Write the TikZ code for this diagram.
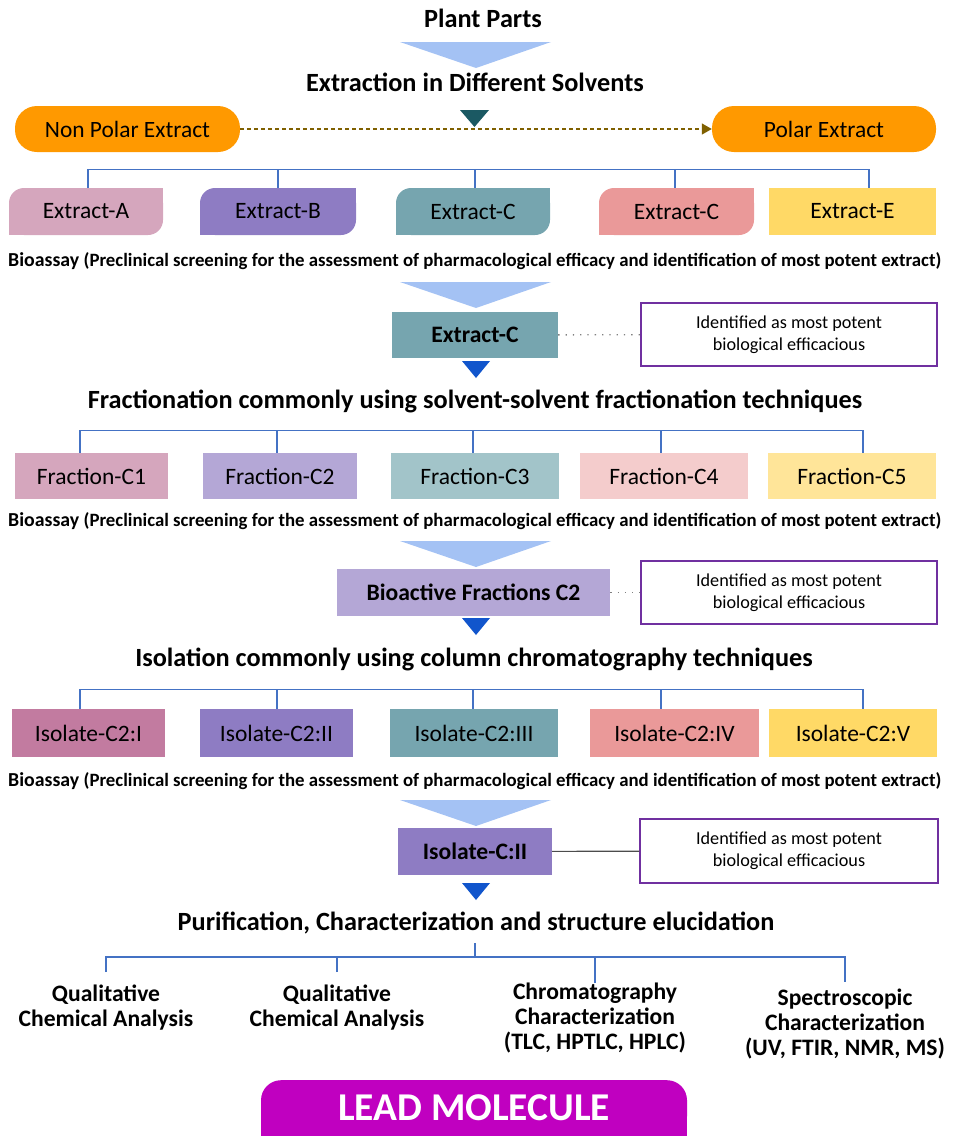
\documentclass[tikz,border=0pt]{standalone}
\usepackage{fontspec}
\setmainfont{Carlito}
\usetikzlibrary{arrows.meta,backgrounds}

\newcommand{\fsz}[2]{\fontsize{#1}{#2}\selectfont}

\definecolor{orng}{HTML}{FF9900}
\definecolor{olivearr}{HTML}{7F6000}
\definecolor{darktri}{HTML}{1B5963}
\definecolor{ltblue}{HTML}{A4C2F4}
\definecolor{bluetri}{HTML}{1155CC}
\definecolor{linkblue}{HTML}{4472C4}
\definecolor{noteline}{HTML}{7030A0}
\definecolor{pinkA}{HTML}{D5A6BD}
\definecolor{purpB}{HTML}{8E7CC3}
\definecolor{tealC}{HTML}{76A5AF}
\definecolor{redD}{HTML}{EA9999}
\definecolor{yelE}{HTML}{FFD966}
\definecolor{lilac}{HTML}{B4A7D6}
\definecolor{paleteal}{HTML}{A2C4C9}
\definecolor{palered}{HTML}{F4CCCC}
\definecolor{paleyel}{HTML}{FFE599}
\definecolor{mauve}{HTML}{C27BA0}
\definecolor{leadc}{HTML}{C000C0}

\begin{document}
\begin{tikzpicture}[x=1pt, y=-1pt, >={Triangle[length=10pt,width=11pt]}]
	\tikzstyle{head} = [anchor=base, inner sep=0pt, font=\bfseries\fsz{26.3}{30}]
	\tikzstyle{box} = [minimum height=47, inner sep=0pt, font=\fsz{23.5}{28}]
	\tikzstyle{diag} = [box, rounded corners=15]
	\tikzstyle{pick} = [box, font=\bfseries\fsz{23.6}{28}]
	\tikzstyle{note} = [draw=noteline, line width=1.2, fill=white, minimum width=296, minimum height=63, inner sep=0pt, align=center, font=\fsz{18.2}{22}]
	\tikzstyle{link} = [draw=linkblue, line width=1.2]
	\tikzstyle{dotline} = [draw=gray, line width=1.3, dash pattern=on 1.3pt off 6pt]
	\tikzstyle{pill} = [fill=orng, rounded corners=22, minimum height=46, inner sep=0pt, font=\fsz{23.4}{28}]
	\tikzstyle{bioas} = [anchor=base west, inner sep=0pt, font=\bfseries\fsz{19.8}{23}]
	\tikzstyle{result} = [anchor=north, align=center, inner sep=0pt, font=\bfseries\fsz{23.6}{25}]

	\clip (0,0) rectangle (953,1136);

	% extraction
	\node[head] (plant) at (483,27) {Plant Parts};
	\node[head] (extr) at (475,91) {Extraction in Different Solvents};
	\node[pill, minimum width=225] (nonpol) at (127.5,129) {Non Polar Extract};
	\node[pill, minimum width=224] (pol) at (824,129) {Polar Extract};
	\path (nonpol) edge[->, draw=olivearr, line width=1.3, dash pattern=on 4pt off 3pt] (pol);
	\fill[darktri] (460,110) -- (489,110) -- (474.5,127) -- cycle;

	\node[diag, fill=pinkA, minimum width=154] (exA) at (86,211.5) {Extract-A};
	\node[diag, fill=purpB, minimum width=156] (exB) at (278,211.5) {Extract-B};
	\node[diag, fill=tealC, minimum width=154] (exC) at (473,211.5) {Extract-C};
	\node[diag, fill=redD, minimum width=155] (exD) at (676.5,211.5) {Extract-C};
	\node[box, fill=yelE, minimum width=167] (exE) at (852.5,211.5) {Extract-E};
	\draw[link] ([xshift=2]exA.north) -- ++(0,-18) -| ([xshift=16.5]exE.north);
	\foreach \n/\dx in {exB/0, exC/2, exD/-1.5}
		\draw[link] ([xshift=\dx]\n.north) -- ++(0,-18);
	\begin{scope}[on background layer]
		\foreach \n/\c in {exA/pinkA, exB/purpB, exC/tealC, exD/redD} {
			\fill[\c] (\n.north east) rectangle ++(-16,16);
			\fill[\c] (\n.south west) rectangle ++(16,-16);
		}
	\end{scope}

	% bioassay steps
	\foreach \t in {42,282,541,800}
		\fill[ltblue] (400,\t) -- (551,\t) -- (476,{\t+26}) -- cycle;
	\foreach \t in {361,618,883}
		\fill[bluetri] (462,\t) -- (490,\t) -- (476,{\t+17}) -- cycle;
	\foreach \y/\n in {266/bio1, 526/bio2, 786/bio3}
		\node[bioas] (\n) at (8,\y) {Bioassay {\fsz{18.8}{21}(Preclinical screening for the assessment of pharmacological efficacy and identification of most potent extract)}};

	\node[pick, fill=tealC, minimum width=166, minimum height=46] (selC) at (475,335) {Extract-C};
	\node[note] (note1) at (789,334.5) {Identified as most potent\\biological efficacious};
	\path (selC) edge[dotline] (note1);

	% fractionation
	\node[head] (fract) at (475,408) {Fractionation commonly using solvent-solvent fractionation techniques};
	\node[box, fill=pinkA, minimum width=153, minimum height=46] (frA) at (91.5,476) {Fraction-C1};
	\node[box, fill=lilac, minimum width=154, minimum height=46] (frB) at (280,476) {Fraction-C2};
	\node[box, fill=paleteal, minimum width=168, minimum height=46] (frC) at (475,476) {Fraction-C3};
	\node[box, fill=palered, minimum width=168, minimum height=46] (frD) at (664,476) {Fraction-C4};
	\node[box, fill=paleyel, minimum width=168, minimum height=46] (frE) at (852,476) {Fraction-C5};
	\draw[link] ([xshift=-11.5]frA.north) -- ++(0,-22) -| ([xshift=11]frE.north);
	\foreach \n/\dx in {frB/-3, frC/-2, frD/-3}
		\draw[link] ([xshift=\dx]\n.north) -- ++(0,-22);

	\node[pick, fill=lilac, minimum width=273] (selF) at (473.5,592.5) {Bioactive Fractions C2};
	\node[note] (note2) at (789,592.5) {Identified as most potent\\biological efficacious};
	\path (selF) edge[dotline] (note2);

	% isolation
	\node[head] (isol) at (474,666) {Isolation commonly using column chromatography techniques};
	\node[box, fill=mauve, minimum width=153, minimum height=48] (isA) at (88.5,733) {Isolate-C2:I};
	\node[box, fill=purpB, minimum width=153, minimum height=48] (isB) at (276.5,733) {Isolate-C2:II};
	\node[box, fill=tealC, minimum width=168, minimum height=48] (isC) at (474,733) {Isolate-C2:III};
	\node[box, fill=redD, minimum width=169, minimum height=48] (isD) at (674.5,733) {Isolate-C2:IV};
	\node[box, fill=yelE, minimum width=168, minimum height=48] (isE) at (853,733) {Isolate-C2:V};
	\draw[link] ([xshift=-8.5]isA.north) -- ++(0,-19) -| ([xshift=10]isE.north);
	\foreach \n/\dx in {isB/0.5, isC/-1, isD/-13.5}
		\draw[link] ([xshift=\dx]\n.north) -- ++(0,-19);

	\node[pick, fill=purpB, minimum width=154] (selI) at (475,851.5) {Isolate-C:II};
	\node[note, minimum width=298, minimum height=64] (note3) at (789,851) {Identified as most potent\\biological efficacious};
	\path (selI) edge[draw=black!70, line width=1.2] (note3);

	% purification
	\node[head] (purif) at (476,930) {Purification, Characterization and structure elucidation};
	\coordinate (hub) at (475,957);
	\draw[link] ([yshift=-13]purif.base -| hub) -- (hub);
	\node[result] (q1) at (106,985) {Qualitative\\Chemical Analysis};
	\node[result] (q2) at (337,985) {Qualitative\\Chemical Analysis};
	\node[result] (q3) at (595,983) {Chromatography\\Characterization\\(TLC, HPTLC, HPLC)};
	\node[result] (q4) at (845,989) {Spectroscopic\\Characterization\\(UV, FTIR, NMR, MS)};
	\draw[link] ([yshift=13]q1.north) -- ++(0,-15) -| ([yshift=7]q4.north);
	\draw[link] ([yshift=13]q2.north) -- ++(0,-15);
	\draw[link] ([yshift=0]q3.north) -- ++(0,-26);

	\node[anchor=north, fill=leadc, rounded corners=20, minimum width=426, minimum height=56, inner sep=0pt, text=white, font=\bfseries\fsz{39.4}{44}] (lead) at (474,1080) {LEAD MOLECULE};
	\begin{scope}[on background layer]
		\fill[leadc] (lead.west) rectangle ([yshift=-20]lead.south east);
	\end{scope}
\end{tikzpicture}
\end{document}
